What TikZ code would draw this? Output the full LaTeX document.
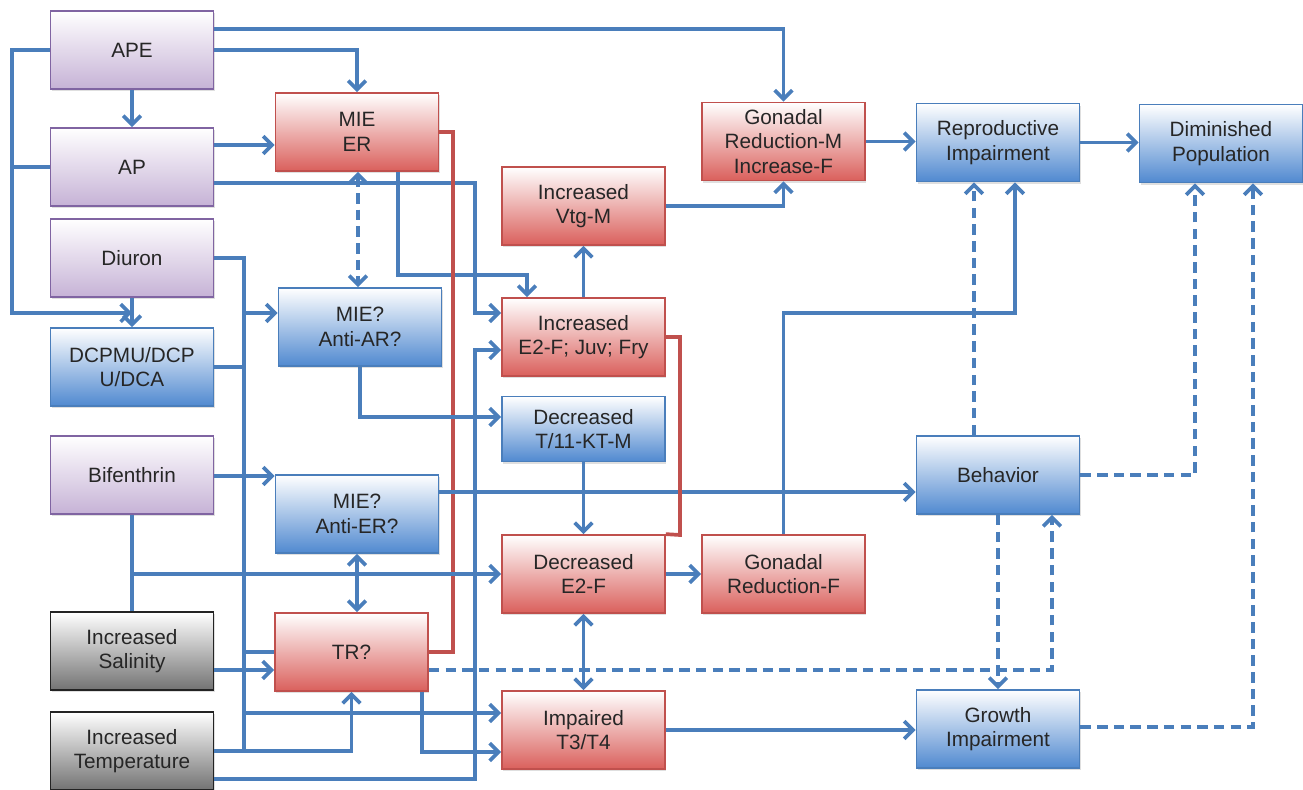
\documentclass[tikz,border=0pt]{standalone}
\usepackage{fontspec}
\setmainfont{Liberation Sans}
\definecolor{LineBlue}{RGB}{74,126,187}
\definecolor{LineRed}{RGB}{192,80,77}
\definecolor{FillPurple}{RGB}{198,178,214}
\definecolor{EdgePurple}{RGB}{128,100,162}
\definecolor{FillRed}{RGB}{218,96,92}
\definecolor{EdgeRed}{RGB}{192,80,77}
\definecolor{FillBlue}{RGB}{80,137,208}
\definecolor{EdgeBlue}{RGB}{74,126,187}
\definecolor{FillGray}{RGB}{115,115,115}
\definecolor{EdgeGray}{RGB}{35,35,35}
\usetikzlibrary{arrows.meta, shadows}

\begin{document}
\begin{tikzpicture}[x=0.02cm, y=-0.02cm,
  >={Straight Barb[length=5pt, width=10pt]},
  box/.style={draw, line width=1pt, minimum width=3.26cm, minimum height=1.56cm,
    inner sep=1pt, align=center, text=black!85,
    font=\fontsize{11.8}{14}\selectfont,
    drop shadow={shadow xshift=0.6pt, shadow yshift=-1.4pt, opacity=0.25}},
  agent/.style={box, draw=EdgePurple, top color=white, bottom color=FillPurple},
  redbox/.style={box, draw=EdgeRed, top color=white, bottom color=FillRed},
  bluebox/.style={box, draw=EdgeBlue, top color=white, bottom color=FillBlue},
  stress/.style={box, draw=EdgeGray, top color=white, bottom color=FillGray},
  wire/.style={draw=LineBlue, line width=2.1pt},
  flow/.style={wire, ->},
  dflow/.style={flow, dash pattern=on 6pt off 3.5pt},
  redwire/.style={draw=LineRed, line width=2.1pt}]

\useasboundingbox (0,0) rectangle (1303,790);

\node [agent] (APE) at (132,50) {APE};
\node [agent] (AP) at (132,167) {AP};
\node [agent] (Diuron) at (132,258) {Diuron};
\node [bluebox] (DCPMU) at (132,367) {DCPMU/DCP\\U/DCA};
\node [agent] (Bif) at (132,475) {Bifenthrin};
\node [stress] (Sal) at (132,651) {Increased\\Salinity};
\node [stress] (Temp) at (132,751) {Increased\\Temperature};

\node [redbox] (MIEER) at (357,132) {MIE\\ER};
\node [bluebox] (AntiAR) at (360,327) {MIE?\\Anti-AR?};
\node [bluebox] (AntiER) at (357,514) {MIE?\\Anti-ER?};
\node [redbox, minimum width=3.06cm] (TR) at (351.5,652) {TR?};

\node [redbox] (Vtg) at (583.5,206) {Increased\\Vtg-M};
\node [redbox] (IncE2) at (583.5,337) {Increased\\E2-F; Juv; Fry};
\node [bluebox, minimum height=1.3cm] (DecT) at (583.5,429) {Decreased\\T/11-KT-M};
\node [redbox] (DecE2) at (583.5,574) {Decreased\\E2-F};
\node [redbox] (T3T4) at (583.5,730) {Impaired\\T3/T4};

\node [redbox] (GonM) at (783.5,141.5) {Gonadal\\Reduction-M\\Increase-F};
\node [redbox] (GonF) at (783.5,574) {Gonadal\\Reduction-F};

\node [bluebox] (Repro) at (998,142.5) {Reproductive\\Impairment};
\node [bluebox] (DimPop) at (1221,143.5) {Diminished\\Population};
\node [bluebox] (Behav) at (998,475) {Behavior};
\node [bluebox] (Growth) at (998,729) {Growth\\Impairment};

\draw [flow] (APE.east |- 0,29) -| (GonM.north);
\draw [flow] (APE.east) -| (MIEER.north);
\draw [flow] (APE) -- (AP);
\draw [flow] (APE.west) -| (12,313) -- (DCPMU.north |- 0,313);
\draw [wire] (AP.west) -- (AP.west -| 12,0);
\draw [flow] (AP.east |- 0,145) -- (MIEER.west |- 0,145);
\draw [flow] (AP.east |- 0,183) -| (475,313) -- (IncE2.west |- 0,313);
\draw [flow] (MIEER.south -| 398,0) |- (527,275) -- (IncE2.north -| 527,0);
\draw [redwire] (MIEER.east) -| (453,652) -- (TR.east);
\draw [dflow, <->] (MIEER.south -| 358,0) -- (AntiAR.north -| 358,0);

\draw [wire] (Diuron.east) -| (244,752);
\draw [flow] (Diuron) -- (DCPMU);
\draw [flow] (244,313) -- (AntiAR.west |- 0,313);
\draw [wire] (DCPMU.east) -- (DCPMU.east -| 244,0);
\draw [wire] (244,652) -- (TR.west);
\draw [flow] (244,713) -- (T3T4.west |- 0,713);

\draw [flow] (Bif.east |- 0,476) -- (AntiER.west |- 0,476);
\draw [wire] (Bif.south) -- (Sal.north);
\draw [flow] (132,574) -- (DecE2.west);
\draw [flow] (Sal.east |- 0,670) -- (TR.west |- 0,670);
\draw [flow] (Temp.east) -| (TR.south);
\draw [flow] (Temp.east |- 0,779) -| (475,350) -- (IncE2.west |- 0,350);

\draw [flow] (AntiAR.south) |- (DecT.west |- 0,417);
\draw [flow] (AntiER.east |- 0,492) -- (Behav.west |- 0,492);
\draw [flow, <->] (AntiER.south -| 357,0) -- (TR.north -| 357,0);
\draw [dflow] (TR.east |- 0,670) -| (Behav.south -| 1052,0);
\draw [flow] (TR.south -| 422,0) |- (T3T4.west |- 0,752);

\draw [flow] (IncE2) -- (Vtg);
\draw [flow] (Vtg.east) -| (GonM.south);
\draw [redwire] (IncE2.east) -| (680,535) -- (DecE2.north east);
\draw [flow] (DecT) -- (DecE2);
\draw [flow] (DecE2) -- (GonF);
\draw [flow, <->] (DecE2) -- (T3T4);
\draw [flow] (T3T4.east) -- (Growth.west |- T3T4.east);

\draw [flow] (GonF.north) |- (1015,313) -- (Repro.south -| 1015,0);
\draw [flow] (GonM.east) -- (Repro.west |- GonM.east);
\draw [flow] (Repro.east) -- (DimPop.west |- Repro.east);
\draw [dflow] (Behav.north -| 974,0) -- (Repro.south -| 974,0);
\draw [dflow] (Behav.east) -| (DimPop.south -| 1195,0);
\draw [dflow] (Behav.south) -- (Growth.north);
\draw [dflow] (Growth.east |- 0,727) -| (DimPop.south -| 1253,0);

\end{tikzpicture}
\end{document}
